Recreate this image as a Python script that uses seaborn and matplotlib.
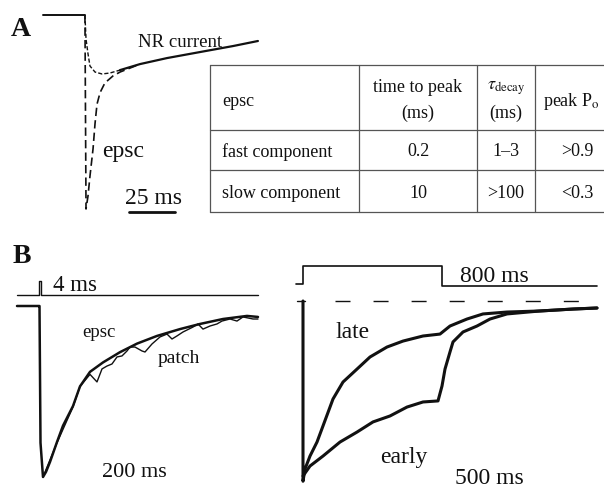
"""Recreation of a two-panel NMDA receptor current figure (A: traces + table, B: epsc/patch traces)."""

import pandas as pd
import seaborn as sns
import matplotlib.pyplot as plt

sns.set_style("white")
plt.rcParams['font.family'] = ['Liberation Serif', 'DejaVu Serif']
plt.rcParams['mathtext.fontset'] = 'stix'

# Panel A: NR current and epsc (time in ms, current normalised to epsc peak)
a_nr_t = [0, 22.2, 23.3, 23.9, 25, 26.1, 28.9, 32.8, 37.2, 42.8, 53.9, 68.9, 87.2, 105.6, 119.4]
a_nr_i = [0, 0, 0, -0.124, -0.20, -0.263, -0.294, -0.304, -0.299, -0.284, -0.253, -0.222, -0.191, -0.160, -0.134]
a_epsc_t = [23.3, 23.9, 25, 26.1, 27.8, 28.9, 30, 31.7, 34.4, 38.9, 42.8, 53.9]
a_epsc_i = [0, -1.0, -0.933, -0.83, -0.69, -0.56, -0.46, -0.40, -0.35, -0.314, -0.294, -0.253]

# Table in panel A
table_head = [['epsc'], ['time to peak', '(ms)'], [r'$\tau_{\mathrm{decay}}$', '(ms)'], [r'peak P$_{\mathrm{o}}$']]
table_rows = [['fast component', '0.2', '1–3', '>0.9'],
              ['slow component', '10', '>100', '<0.3']]

# Panel B left: 4 ms pulse, epsc and patch response
bl_stim_t = [0, 44, 44, 47, 47, 482]
bl_stim_v = [0, 0, 1, 1, 0, 0]
bl_epsc_t = [0, 42, 45, 47, 52, 58, 66, 80, 92, 112, 126, 146, 172, 206, 240, 280, 326, 366, 412, 460, 482]
bl_epsc_i = [0, 0, 0, -0.8, -1.0, -0.97, -0.912, -0.795, -0.70, -0.585, -0.47, -0.385, -0.33, -0.27,
             -0.22, -0.175, -0.135, -0.105, -0.076, -0.058, -0.064]
bl_patch_t = [52, 80, 112, 126, 146, 160, 170, 180, 190, 200, 210, 220, 226, 236, 250, 256, 270, 286,
              300, 310, 320, 332, 352, 362, 372, 386, 400, 410, 426, 440, 452, 472, 482]
bl_patch_i = [-1.0, -0.80, -0.59, -0.47, -0.40, -0.444, -0.368, -0.351, -0.339, -0.298, -0.292, -0.263,
              -0.240, -0.240, -0.263, -0.269, -0.222, -0.181, -0.164, -0.193, -0.175, -0.152, -0.123,
              -0.105, -0.135, -0.117, -0.105, -0.088, -0.076, -0.088, -0.064, -0.076, -0.076]

# Panel B right: 800 ms pulse, late and early responses
br_stim_t = [-42, 0, 0, 834, 834, 846, 1764]
br_stim_v = [0.05, 0.05, 1, 1, -0.05, -0.05, -0.05]
br_base_t = [192, 1662]
br_base_i = [0, 0]
br_late_t = [0, 0, 12, 42, 84, 120, 180, 240, 324, 402, 504, 600, 720, 822, 882, 984, 1080, 1224, 1422, 1620, 1764]
br_late_i = [0, -1.03, -0.96, -0.886, -0.806, -0.714, -0.56, -0.463, -0.389, -0.32, -0.263, -0.229, -0.20,
             -0.189, -0.143, -0.103, -0.074, -0.063, -0.057, -0.046, -0.040]
br_early_t = [0, 42, 120, 222, 324, 420, 522, 624, 720, 810, 834, 852, 882, 900, 960, 1044, 1122, 1224,
              1422, 1620, 1764]
br_early_i = [-1.0, -0.943, -0.886, -0.806, -0.749, -0.691, -0.657, -0.606, -0.577, -0.571, -0.486, -0.389,
              -0.291, -0.234, -0.177, -0.143, -0.103, -0.074, -0.057, -0.046, -0.040]

W, H = 604, 489
fig = plt.figure(figsize=(W / 100, H / 100), dpi=100, facecolor='white')

# overlay in pixel units for labels, table and scale bar
ax0 = fig.add_axes([0, 0, 1, 1])
ax0.set_xlim(0, W)
ax0.set_ylim(H, 0)
ax0.axis('off')


def panel(x0, y0, x1, y1, xlim, ylim):
    """Add an invisible axes covering a pixel box of the figure."""
    ax = fig.add_axes([x0 / W, 1 - y1 / H, (x1 - x0) / W, (y1 - y0) / H])
    ax.set_xlim(*xlim)
    ax.set_ylim(*ylim)
    ax.axis('off')
    return ax


def trace(ax, t, i, **kw):
    kw.setdefault('color', '#111111')
    sns.lineplot(x=t, y=i, ax=ax, sort=False, estimator=None, clip_on=False, **kw)


# ---- Panel A traces
axA = panel(43, 16, 259, 210, (0, 120), (-1, 0))
nr = pd.DataFrame({'t': a_nr_t, 'i': a_nr_i})
dip = nr[(nr.t >= 23.3) & (nr.t <= 42.8)]
trace(axA, nr.t[nr.t <= 23.3].tolist(), nr.i[nr.t <= 23.3].tolist(), lw=1.4)
trace(axA, dip.t.tolist(), dip.i.tolist(), lw=1.0, linestyle=(0, (3, 1.5)))
trace(axA, nr.t[nr.t >= 42.8].tolist(), nr.i[nr.t >= 42.8].tolist(), lw=1.6)
trace(axA, a_epsc_t, a_epsc_i, lw=1.2, linestyle=(0, (5, 2.5)))

txt = dict(color='#111111', ha='left', va='baseline')
ax0.text(11, 36, 'A', fontsize=20, fontweight='bold', **txt)
ax0.text(138, 47, 'NR current', fontsize=13.5, **txt)
ax0.text(102, 157, 'epsc', fontsize=17, **txt)
ax0.text(125, 204, '25 ms', fontsize=17, **txt)
ax0.plot([129, 175], [213, 213], color='#111111', lw=2)

# ---- Table
col_edges = [210, 359, 477, 535, 610]
row_edges = [66, 131, 171, 213]
for y in row_edges:
    ax0.plot([col_edges[0], col_edges[-1]], [y, y], color='#555555', lw=0.9)
for x in col_edges[:-1]:
    ax0.plot([x, x], [row_edges[0], row_edges[-1]], color='#555555', lw=0.9)
cell_x = [222, 418, 506, 577]
cell_ha = ['left', 'center', 'center', 'center']
head_x = [222, 418, 506, 571]
for k, lines in enumerate(table_head):
    ys = [101] if len(lines) == 1 else [88, 113]
    for s, y in zip(lines, ys):
        ax0.text(head_x[k], y, s, fontsize=13, ha=cell_ha[k], va='center', color='#111111')
row_y = [152, 193]
for r, row in enumerate(table_rows):
    for k, s in enumerate(row):
        ax0.text(cell_x[k], row_y[r], s, fontsize=13, ha=cell_ha[k], va='center', color='#111111')

# ---- Panel B left
axBs = panel(17, 282, 258, 296, (0, 482), (0, 1))
trace(axBs, bl_stim_t, bl_stim_v, lw=1.0)
axBl = panel(17, 307, 258, 478, (0, 482), (-1, 0))
trace(axBl, bl_patch_t, bl_patch_i, lw=1.0)
trace(axBl, bl_epsc_t, bl_epsc_i, lw=1.8)

ax0.text(13, 263, 'B', fontsize=20, fontweight='bold', **txt)
ax0.text(53, 291, '4 ms', fontsize=16.5, **txt)
ax0.text(82, 337, 'epsc', fontsize=13.5, **txt)
ax0.text(158, 363, 'patch', fontsize=14, **txt)
ax0.text(102, 477, '200 ms', fontsize=16, **txt)

# ---- Panel B right
axRs = panel(303, 267, 597, 286, (0, 1764), (0, 1))
trace(axRs, br_stim_t, br_stim_v, lw=1.2)
axR = panel(303, 302, 597, 477, (0, 1764), (-1, 0))
trace(axR, [-36, 12], [0, 0], lw=1.0)
trace(axR, br_base_t, br_base_i, lw=1.0, linestyle=(0, (10.8, 16.6)))
trace(axR, br_late_t, br_late_i, lw=2.2)
trace(axR, br_early_t, br_early_i, lw=2.2)

ax0.text(460, 282, '800 ms', fontsize=17, **txt)
ax0.text(335, 338, 'late', fontsize=17, **txt)
ax0.text(380, 463, 'early', fontsize=17, **txt)
ax0.text(455, 484, '500 ms', fontsize=17, **txt)

fig.savefig('out.png', dpi=100, facecolor='white')
